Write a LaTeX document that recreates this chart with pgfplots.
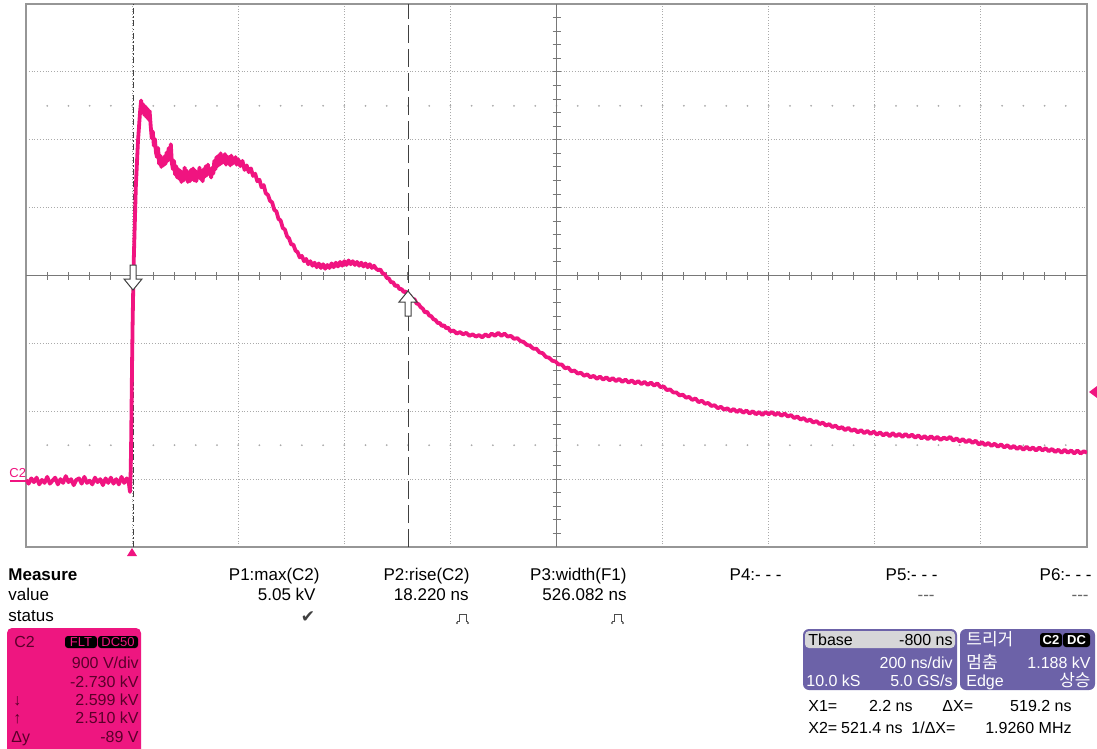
\documentclass[border=0pt]{standalone}
\usepackage{pgfplots}
\usepackage{pgfplotstable}
\pgfplotsset{compat=1.18}
\usepackage{fontspec}
\setmainfont{Liberation Sans}
\newfontfamily\krfont{Noto Sans CJK KR}
\newfontfamily\symfont{DejaVu Sans}

\definecolor{trace}{RGB}{240,20,128}
\definecolor{boxpink}{RGB}{238,22,128}
\definecolor{pinktext}{RGB}{90,0,42}
\definecolor{tbpurple}{RGB}{108,98,168}
\definecolor{tbgrey}{RGB}{214,214,216}
\definecolor{gridc}{RGB}{170,170,170}
\definecolor{framec}{RGB}{150,150,150}
\definecolor{centc}{RGB}{120,120,120}

% C2 trace: time in ns, voltage in kV (200 ns/div, 900 V/div, centre 2.73 kV)
\pgfplotstableread{
t v
-200 0.02
-195 -0.03
-190 0.04
-185 -0.01
-180 0.05
-175 -0.04
-170 0.02
-165 -0.02
-160 0.06
-155 -0.03
-150 0.01
-145 0.05
-140 -0.04
-135 0.03
-130 -0.02
-125 0.07
-120 -0.01
-115 0.03
-110 -0.05
-105 0.02
-100 0.04
-95 -0.03
-90 0.06
-85 -0.02
-80 0.01
-75 -0.04
-70 0.05
-65 -0.01
-60 0.03
-55 -0.05
-50 0.04
-45 -0.02
-40 0.05
-35 -0.03
-30 0.03
-25 -0.04
-20 0.06
-15 -0.02
-10 0.04
-6 -0.03
-4 -0.14
-3 0.02
-2 0.4
-1 1.0
0 1.6
1 2.1
2 2.5
3 2.9
5 3.4
7 3.9
9 4.2
11 4.5
13 4.7
15 4.9
17 5.05
19 4.90
21 5.00
23 4.86
25 4.97
27 4.83
29 4.94
31 4.80
33 4.91
35 4.72
37 4.55
39 4.64
41 4.45
43 4.54
45 4.36
47 4.30
49 4.42
51 4.21
53 4.32
55 4.17
57 4.28
59 4.19
61 4.31
63 4.21
65 4.36
67 4.25
69 4.42
71 4.27
73 4.47
75 4.22
77 4.14
79 4.25
81 4.07
83 4.18
85 4.03
87 4.14
89 4.01
91 4.12
93 3.97
95 4.10
97 3.99
99 4.16
101 4.03
103 4.12
105 3.97
107 4.09
109 3.98
111 4.13
113 4.01
115 4.15
117 3.99
119 4.12
121 3.98
123 4.10
125 4.03
127 4.16
129 4.01
131 4.12
133 3.98
135 4.14
137 4.04
139 4.18
141 4.06
143 4.20
145 4.08
147 4.14
149 4.03
151 4.16
153 4.08
155 4.25
157 4.14
159 4.30
161 4.18
163 4.32
165 4.20
167 4.35
169 4.22
171 4.30
173 4.23
175 4.34
177 4.20
179 4.31
181 4.22
183 4.30
185 4.19
187 4.32
189 4.21
191 4.28
193 4.24
195 4.30
197 4.20
200 4.27
204 4.18
208 4.25
212 4.13
216 4.19
220 4.10
224 4.15
228 4.05
232 4.08
236 3.98
240 4.00
244 3.90
248 3.93
252 3.82
256 3.80
260 3.72
264 3.70
268 3.60
272 3.58
276 3.48
280 3.46
284 3.36
288 3.34
292 3.25
296 3.22
300 3.14
304 3.14
308 3.06
312 3.04
316 2.97
320 2.99
324 2.92
328 2.95
332 2.88
336 2.92
340 2.86
344 2.90
348 2.84
352 2.89
356 2.83
360 2.88
364 2.82
368 2.87
372 2.83
376 2.89
380 2.84
384 2.90
388 2.85
392 2.91
396 2.86
400 2.92
404 2.87
408 2.93
412 2.88
416 2.92
420 2.87
424 2.91
428 2.86
432 2.90
436 2.85
440 2.89
444 2.84
448 2.88
452 2.83
456 2.86
460 2.82
464 2.80
468 2.81
472 2.76
476 2.75
480 2.70
484 2.69
488 2.64
492 2.64
496 2.59
500 2.60
504 2.55
508 2.55
512 2.51
516 2.52
520 2.47
524 2.46
528 2.41
532 2.42
536 2.36
540 2.35
544 2.31
548 2.29
552 2.24
556 2.25
560 2.20
564 2.19
568 2.15
572 2.14
576 2.10
580 2.10
584 2.06
588 2.07
592 2.03
596 2.04
600 1.99
606 2.00
612 1.96
618 1.98
624 1.95
630 1.97
636 1.93
642 1.95
648 1.92
654 1.94
660 1.91
666 1.95
672 1.92
678 1.96
684 1.93
690 1.97
696 1.93
702 1.96
708 1.92
714 1.93
720 1.89
726 1.90
732 1.86
738 1.85
744 1.81
750 1.80
756 1.76
762 1.76
768 1.71
774 1.70
780 1.65
786 1.64
792 1.60
798 1.59
804 1.55
810 1.55
816 1.50
822 1.51
828 1.46
834 1.47
840 1.43
846 1.44
852 1.40
858 1.42
864 1.38
870 1.40
876 1.36
882 1.39
888 1.35
894 1.38
900 1.34
906 1.37
912 1.33
918 1.36
924 1.32
930 1.35
936 1.31
942 1.34
948 1.30
954 1.33
960 1.29
966 1.32
972 1.28
978 1.31
984 1.27
990 1.30
996 1.25
1002 1.26
1008 1.21
1014 1.22
1020 1.18
1026 1.18
1032 1.14
1038 1.15
1044 1.11
1050 1.12
1056 1.08
1062 1.10
1068 1.05
1074 1.07
1080 1.03
1086 1.04
1092 1.00
1098 1.01
1104 0.97
1110 0.99
1116 0.95
1122 0.97
1128 0.93
1134 0.96
1140 0.92
1146 0.95
1152 0.91
1158 0.94
1164 0.90
1170 0.93
1176 0.89
1182 0.92
1188 0.88
1194 0.92
1200 0.89
1206 0.92
1212 0.88
1218 0.91
1224 0.87
1230 0.90
1236 0.86
1242 0.88
1248 0.84
1254 0.86
1260 0.82
1266 0.84
1272 0.80
1278 0.82
1284 0.78
1290 0.80
1296 0.76
1302 0.78
1308 0.74
1314 0.76
1320 0.72
1326 0.74
1332 0.70
1338 0.72
1344 0.68
1350 0.71
1356 0.67
1362 0.69
1368 0.65
1374 0.68
1380 0.64
1386 0.67
1392 0.63
1398 0.66
1404 0.62
1410 0.65
1416 0.61
1422 0.64
1428 0.60
1434 0.64
1440 0.60
1446 0.63
1452 0.59
1458 0.63
1464 0.59
1470 0.62
1476 0.58
1482 0.61
1488 0.57
1494 0.60
1500 0.56
1506 0.60
1512 0.56
1518 0.59
1524 0.55
1530 0.58
1536 0.56
1542 0.59
1548 0.54
1554 0.57
1560 0.53
1566 0.56
1572 0.52
1578 0.55
1584 0.51
1590 0.54
1596 0.49
1602 0.52
1608 0.48
1614 0.51
1620 0.47
1626 0.50
1632 0.46
1638 0.49
1644 0.45
1650 0.48
1656 0.44
1662 0.47
1668 0.43
1674 0.46
1680 0.42
1686 0.46
1692 0.42
1698 0.45
1704 0.41
1710 0.45
1716 0.41
1722 0.44
1728 0.40
1734 0.43
1740 0.39
1746 0.42
1752 0.38
1758 0.42
1764 0.38
1770 0.41
1776 0.37
1782 0.41
1788 0.37
1794 0.40
1800 0.38
}\tracedata

\begin{document}
\begin{tikzpicture}
\path[use as bounding box] (0,0) rectangle (548.5pt,-374.5pt);
\fill[white] (0,0) rectangle (548.5pt,-374.5pt);

\begin{axis}[
  at={(13pt,-273.5pt)}, anchor=south west,
  scale only axis, width=530.5pt, height=271.5pt,
  xmin=-200, xmax=1800, ymin=-0.87, ymax=6.33,
  xtick={0,200,400,600,1000,1200,1400,1600},
  ytick={0.03,0.93,1.83,3.63,4.53,5.43},
  xticklabels={}, yticklabels={},
  major tick length=0pt,
  xmajorgrids, ymajorgrids,
  grid style={gridc, densely dotted, line width=0.5pt},
  axis line style={framec, line width=0.6pt},
]
  % faint level dots
  \pgfplotsinvokeforeach{-160,-120,...,1760}{
    \fill[gridc] (axis cs:#1,4.98) circle[radius=0.5pt];
    \fill[gridc] (axis cs:#1,0.48) circle[radius=0.5pt];
  }
  % centre cross with 0.2 div ticks
  \draw[centc, line width=0.6pt] (axis cs:-200,2.73) -- (axis cs:1800,2.73);
  \draw[centc, line width=0.6pt] (axis cs:800,-0.87) -- (axis cs:800,6.33);
  \pgfplotsinvokeforeach{-160,-120,...,1760}{
    \draw[centc, line width=0.5pt] ([yshift=-2pt]axis cs:#1,2.73) -- ([yshift=2pt]axis cs:#1,2.73);
  }
  \pgfplotsinvokeforeach{-0.69,-0.51,...,6.2}{
    \draw[centc, line width=0.5pt] ([xshift=-2pt]axis cs:800,#1) -- ([xshift=2pt]axis cs:800,#1);
  }
  % cursors X1, X2
  \draw[black!75, line width=0.7pt, dash pattern=on 3pt off 1.2pt on 0.8pt off 1.2pt]
    (axis cs:2.2,-0.87) -- (axis cs:2.2,6.33);
  \draw[black!75, line width=0.7pt, dash pattern=on 9pt off 3pt]
    (axis cs:521.4,-0.87) -- (axis cs:521.4,6.33);

  \addplot[trace, line width=1.9pt, line join=round] table[x=t, y=v] {\tracedata};
\end{axis}

\begin{scope}[x=0.5pt, y=-0.5pt]
  % cursor arrows
  \filldraw[fill=white, draw=black!75, line width=0.5pt]
    (130,265) -- (136,265) -- (136,279) -- (142,279) -- (133,290) -- (124,279) -- (130,279) -- cycle;
  \filldraw[fill=white, draw=black!75, line width=0.5pt]
    (408,291) -- (417,302) -- (411,302) -- (411,316) -- (405,316) -- (405,302) -- (399,302) -- cycle;
  % trigger markers and ground marker
  \fill[trace] (132,548) -- (137,556) -- (127,556) -- cycle;
  \fill[trace] (1089,392) -- (1097,386) -- (1097,398) -- cycle;
  \draw[trace, line width=1pt] (10,481) -- (26,481);
  \node[trace, inner sep=0, anchor=base west, font=\fontsize{6.5}{7}\selectfont] at (9,477) {C2};

  % measure table
  \begin{scope}[every node/.style={inner sep=0, font=\fontsize{8.5}{10}\selectfont}]
    \node[anchor=base west, font=\fontsize{8.5}{10}\selectfont\bfseries] at (8,580) {Measure};
    \node[anchor=base west] at (8,600) {value};
    \node[anchor=base west] at (8,621) {status};
    \node[anchor=base east] at (320,580) {P1:max(C2)};
    \node[anchor=base east] at (470,580) {P2:rise(C2)};
    \node[anchor=base east] at (627,580) {P3:width(F1)};
    \node[anchor=base east] at (782,580) {P4:- - -};
    \node[anchor=base east] at (938,580) {P5:- - -};
    \node[anchor=base east] at (1092,580) {P6:- - -};
    \node[anchor=base east] at (316,600) {5.05 kV};
    \node[anchor=base east] at (469,600) {18.220 ns};
    \node[anchor=base east] at (627,600) {526.082 ns};
    \node[anchor=base east, text=black!60] at (935,600) {{-}{-}{-}};
    \node[anchor=base east, text=black!60] at (1089,600) {{-}{-}{-}};
    \node[text=black!75, font=\symfont\fontsize{8.5}{9}\selectfont] at (308,617) {✔};
  \end{scope}
  \draw[black!70, line width=0.5pt] (457,621) -- (459,621) -- (459,614) -- (466,614) -- (466,621) -- (468,621);
  \fill[black!70] (457,623) circle[radius=0.6pt] (468,623) circle[radius=0.6pt];
  \draw[black!70, line width=0.5pt] (612,621) -- (614,621) -- (614,614) -- (621,614) -- (621,621) -- (623,621);
  \fill[black!70] (612,623) circle[radius=0.6pt] (623,623) circle[radius=0.6pt];

  % channel box
  \fill[boxpink, rounded corners=2.5pt] (7,628) rectangle (141,756);
  \fill[black, rounded corners=1.5pt] (65,636) rectangle (97,648);
  \fill[black, rounded corners=1.5pt] (98,636) rectangle (138,648);
  \begin{scope}[every node/.style={inner sep=0, text=pinktext, font=\fontsize{8}{9}\selectfont}]
    \node[anchor=base west] at (14,647) {C2};
    \node[text=boxpink, font=\fontsize{6.5}{7}\selectfont] at (81,642) {FLT};
    \node[text=boxpink, font=\fontsize{6.5}{7}\selectfont] at (118,642) {DC50};
    \node[anchor=base east] at (139,668) {900 V/div};
    \node[anchor=base east] at (139,687) {-2.730 kV};
    \node[anchor=base east] at (139,705) {2.599 kV};
    \node[anchor=base east] at (139,723) {2.510 kV};
    \node[anchor=base east] at (139,742) {-89 V};
    \node[anchor=base west] at (13,705) {↓};
    \node[anchor=base west] at (13,723) {↑};
    \node[anchor=base west] at (11,742) {Δy};
  \end{scope}

  % timebase and trigger boxes
  \fill[tbpurple, rounded corners=3pt] (803,629) rectangle (957,690);
  \fill[tbgrey, rounded corners=2pt] (805,631) rectangle (955,648);
  \fill[tbpurple, rounded corners=3pt] (960,629) rectangle (1095,690);
  \fill[black, rounded corners=1.5pt] (1040,633) rectangle (1062,647);
  \fill[black, rounded corners=1.5pt] (1063,633) rectangle (1090,647);
  \begin{scope}[every node/.style={inner sep=0, text=white, font=\fontsize{8}{9}\selectfont}]
    \node[anchor=base west, text=black] at (808,645) {Tbase};
    \node[anchor=base east, text=black] at (953,645) {-800 ns};
    \node[anchor=base east] at (953,668) {200 ns/div};
    \node[anchor=base west] at (806,686) {10.0 kS};
    \node[anchor=base east] at (953,686) {5.0 GS/s};
    \node[anchor=base west, font=\krfont\fontsize{8.5}{9}\selectfont] at (966,645) {트리거};
    \node[font=\fontsize{6.5}{7}\selectfont\bfseries] at (1051,640) {C2};
    \node[font=\fontsize{6.5}{7}\selectfont\bfseries] at (1076.5,640) {DC};
    \node[anchor=base west, font=\krfont\fontsize{8.5}{9}\selectfont] at (966,668) {멈춤};
    \node[anchor=base east] at (1091,668) {1.188 kV};
    \node[anchor=base west] at (966,686) {Edge};
    \node[anchor=base east, font=\krfont\fontsize{8.5}{9}\selectfont] at (1091,686) {상승};
  \end{scope}

  % cursor readout
  \begin{scope}[every node/.style={inner sep=0, font=\fontsize{8}{9}\selectfont}]
    \node[anchor=base west] at (808,711) {X1=};
    \node[anchor=base east] at (913,711) {2.2 ns};
    \node[anchor=base west] at (942,711) {ΔX=};
    \node[anchor=base east] at (1072,711) {519.2 ns};
    \node[anchor=base west] at (808,733) {X2=};
    \node[anchor=base east] at (903,733) {521.4 ns};
    \node[anchor=base west] at (911,733) {1/ΔX=};
    \node[anchor=base east] at (1072,733) {1.9260 MHz};
  \end{scope}
\end{scope}
\end{tikzpicture}
\end{document}
